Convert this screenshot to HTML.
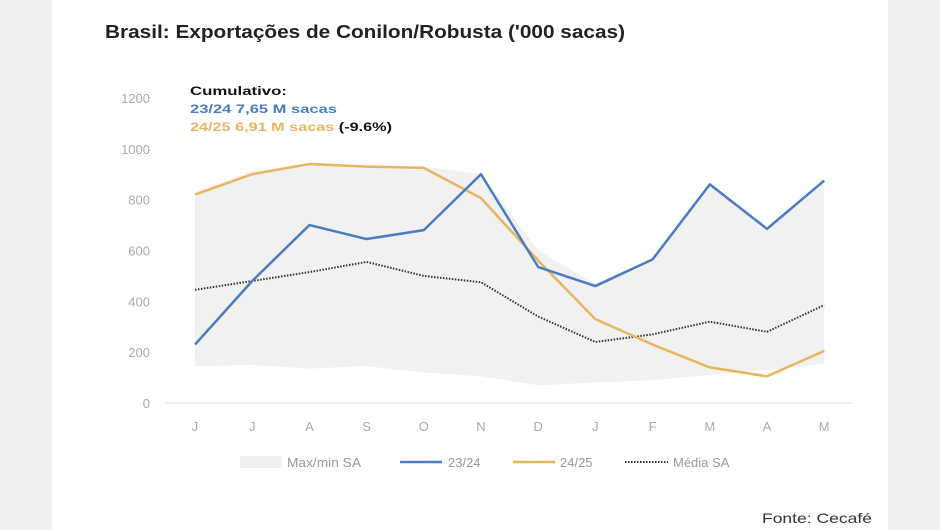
<!DOCTYPE html>
<html><head><meta charset="utf-8"><style>
body{margin:0;width:940px;height:530px;background:#efefef;font-family:"Liberation Sans",sans-serif;overflow:hidden}
#card{position:absolute;left:52px;top:0;width:836px;height:530px;background:#fff}
svg{position:absolute;left:0;top:0}
</style></head><body>
<div id="card"></div>
<svg id="chart" width="940" height="530">
<text x="105" y="38" font-size="18" font-weight="bold" fill="#222" textLength="520" lengthAdjust="spacingAndGlyphs">Brasil: Exportações de Conilon/Robusta ('000 sacas)</text>
<text x="190" y="95" font-size="12" font-weight="bold" fill="#111" textLength="97" lengthAdjust="spacingAndGlyphs">Cumulativo:</text>
<text x="190" y="113" font-size="12" font-weight="bold" fill="#4a7cc4" textLength="147" lengthAdjust="spacingAndGlyphs">23/24 7,65 M sacas</text>
<text x="190" y="131" font-size="12" font-weight="bold" textLength="202" lengthAdjust="spacingAndGlyphs"><tspan fill="#e8b561">24/25 6,91 M sacas</tspan><tspan fill="#111"> (-9.6%)</tspan></text>
<text x="762" y="523" font-size="14" fill="#333" textLength="110" lengthAdjust="spacingAndGlyphs">Fonte: Cecafé</text>
<g id="plot"></g>
<g>
<rect x="240" y="456" width="42" height="12" fill="#f0f0f0"/>
<text x="287" y="467" font-size="13" fill="#999" textLength="74" lengthAdjust="spacingAndGlyphs">Max/min SA</text>
<line x1="400" y1="462" x2="442" y2="462" stroke="#4a7cc4" stroke-width="2.5"/>
<text x="448" y="467" font-size="13" fill="#999">23/24</text>
<line x1="513" y1="462" x2="555" y2="462" stroke="#e8b561" stroke-width="2.5"/>
<text x="560" y="467" font-size="13" fill="#999">24/25</text>
<line x1="625" y1="462" x2="668" y2="462" stroke="#333" stroke-width="2" stroke-dasharray="1.5,1.5"/>
<text x="673" y="467" font-size="13" fill="#999">Média SA</text>
</g>
</svg>
<script>
const months=["J","J","A","S","O","N","D","J","F","M","A","M"];
const s2324=[230,480,700,645,680,900,535,460,565,860,685,875];
const s2425=[820,900,940,930,925,806,560,330,230,140,105,205];
const media=[445,480,515,555,500,475,340,240,270,320,280,385];
const bandMax=[830,910,945,935,930,900,600,470,570,860,690,880];
const bandMin=[145,150,135,145,120,105,70,80,90,110,130,155];
const yTicks=[0,200,400,600,800,1000,1200];
const NS="http://www.w3.org/2000/svg";
const g=document.getElementById('plot');
const x=i=>195+i*57.2;
const y=v=>403-v*0.2542;
function mk(tag,at){const e=document.createElementNS(NS,tag);for(const k in at)e.setAttribute(k,at[k]);g.appendChild(e);return e;}
let d=bandMax.map((v,i)=>(i?'L':'M')+x(i)+','+y(v)).join('')+bandMin.map((v,i)=>i).reverse().map(i=>'L'+x(i)+','+y(bandMin[i])).join('')+'Z';
const band=mk('path',{d:d,fill:'#f1f1f1'});


const ax=mk('line',{x1:165,x2:852,y1:y(0),y2:y(0),stroke:'#e6e6e6','stroke-width':1.5});


yTicks.forEach(t=>{const e=mk('text',{x:150,y:y(t)+5,'font-size':13,fill:'#aaa','text-anchor':'end'});e.textContent=t;

});
months.forEach((m,i)=>{const e=mk('text',{x:x(i),y:431,'font-size':13,fill:'#aaa','text-anchor':'middle'});e.textContent=m;

});
function line(arr,at,name){const p=mk('polyline',Object.assign({points:arr.map((v,i)=>x(i)+','+y(v)).join(' '),fill:'none','stroke-linejoin':'round'},at));

}
line(media,{stroke:'#333','stroke-width':2,'stroke-dasharray':'1.5,1.5'},'line-media-sa');
line(s2425,{stroke:'#e8b561','stroke-width':2.5},'line-2425');
line(s2324,{stroke:'#4a7cc4','stroke-width':2.5},'line-2324');
</script>
</body></html>
